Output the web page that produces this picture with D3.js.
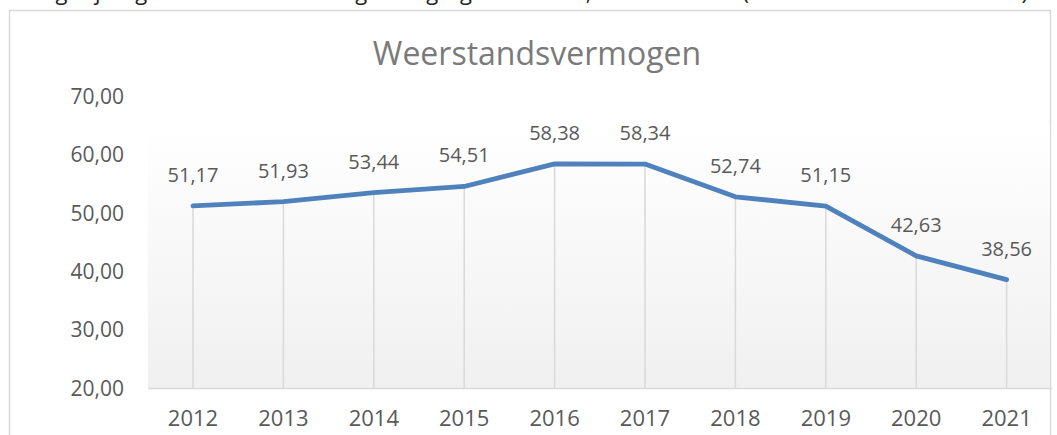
<!DOCTYPE html>
<html><head><meta charset="utf-8">
<script src="https://cdn.jsdelivr.net/npm/d3@7"></script>
<style>html,body{margin:0;padding:0;background:#fff;overflow:hidden}</style>
</head><body>
<script>
const years = ["2012","2013","2014","2015","2016","2017","2018","2019","2020","2021"];
const values = [51.17,51.93,53.44,54.51,58.38,58.34,52.74,51.15,42.63,38.56];
const yTicks = [20,30,40,50,60,70];
const chartTitle = "Weerstandsvermogen";
const caption = "Vergelijking weerstandsvermogen regiogemeenten, totale baten (in % van de totale baten)";

const W = 1057, H = 435;
const fmt = v => d3.format(".2f")(v).replace(".", ",");
const svg = d3.select("body").append("svg").attr("width", W).attr("height", H);
const font = "'Open Sans', Lato, sans-serif";

// clipped caption above the chart frame (only its lower edge is visible, as in the reference)
svg.append("text").attr("x", 18).attr("y", 0).attr("font-family", font)
  .attr("font-size", 22).attr("fill", "#222")
  .attr("textLength", 1010).attr("lengthAdjust", "spacing").text(caption);

// chart frame
svg.append("rect").attr("x", 9.5).attr("y", 10.5).attr("width", 1041).attr("height", 440)
  .attr("fill", "#fff").attr("stroke", "#d9d9d9").attr("stroke-width", 1.5);

const x = d3.scaleBand().domain(years).range([147.8, 1051.8]);
const y = d3.scaleLinear().domain([20, 70]).range([388, 96]);

const defs = svg.append("defs");
const grad = defs.append("linearGradient").attr("id", "bg").attr("x1", 0).attr("y1", 0).attr("x2", 0).attr("y2", 1);
grad.append("stop").attr("offset", "0%").attr("stop-color", "#ffffff");
grad.append("stop").attr("offset", "100%").attr("stop-color", "#f0f0f0");
const clip = defs.append("clipPath").attr("id", "frameclip");
clip.append("rect").attr("x", 10).attr("y", 11).attr("width", 1040).attr("height", 430);

svg.append("rect").attr("x", 147.8).attr("y", y(65)).attr("width", 902).attr("height", y(20) - y(65))
  .attr("fill", "url(#bg)");

svg.append("text").attr("x", 537).attr("y", 65).attr("text-anchor", "middle")
  .attr("font-family", font).attr("font-size", 32)
  .attr("fill", "#7a7a7a").text(chartTitle);

// y axis labels
const yAxis = d3.axisLeft(y).tickValues(yTicks).tickFormat(fmt).tickSize(0).tickPadding(0);
const ya = svg.append("g").attr("transform", "translate(124,0)").call(yAxis);
ya.select(".domain").remove();
ya.selectAll("text").attr("font-family", font).attr("font-size", 21)
  .attr("fill", "#595959").attr("dy", "0.35em");

// drop lines
const g = svg.append("g").attr("clip-path", "url(#frameclip)");
g.selectAll("line.drop").data(values).join("line").attr("class", "drop")
  .attr("x1", (d, i) => x(years[i]) + x.bandwidth() / 2).attr("x2", (d, i) => x(years[i]) + x.bandwidth() / 2)
  .attr("y1", d => y(d)).attr("y2", y(20)).attr("stroke", "#d9d9d9").attr("stroke-width", 1.5);

// x axis
const xAxis = d3.axisBottom(x).tickSize(0).tickPadding(0);
const xa = svg.append("g").attr("transform", `translate(0,${y(20)})`).call(xAxis);
xa.select(".domain").attr("stroke", "#d9d9d9").attr("stroke-width", 1.5);
xa.selectAll("text").attr("font-family", font).attr("font-size", 22)
  .attr("fill", "#595959").attr("dy", "1.72em");

// line
const line = d3.line().x((d, i) => x(years[i]) + x.bandwidth() / 2).y(d => y(d));
g.append("path").datum(values).attr("d", line).attr("fill", "none")
  .attr("stroke", "#4f81bd").attr("stroke-width", 4.8).attr("stroke-linejoin", "round").attr("stroke-linecap", "round");

// data labels
g.selectAll("text.lbl").data(values).join("text").attr("class", "lbl")
  .attr("x", (d, i) => x(years[i]) + x.bandwidth() / 2).attr("y", d => y(d) - 31)
  .attr("text-anchor", "middle").attr("dy", "0.35em")
  .attr("font-family", font).attr("font-size", 20).attr("fill", "#595959").text(fmt);
</script>
</body></html>
